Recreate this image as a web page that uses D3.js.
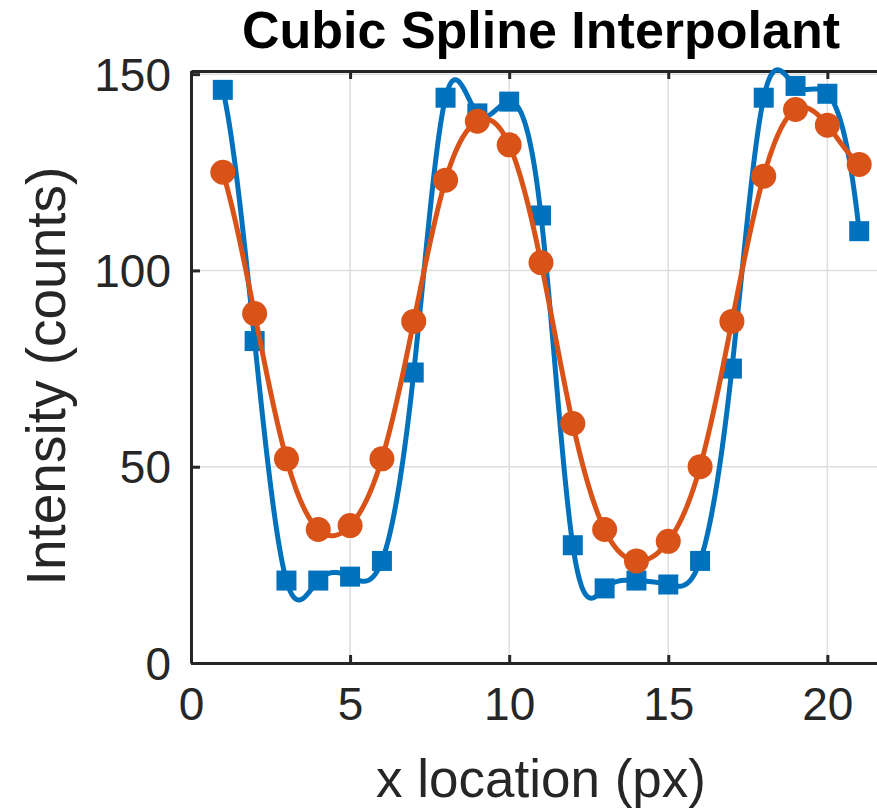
<!DOCTYPE html>
<html>
<head>
<meta charset="utf-8">
<script src="https://cdn.jsdelivr.net/npm/d3@7"></script>
<style>
  body { margin: 0; background: #fff; }
  svg { display: block; font-family: "Liberation Sans", Arial, sans-serif; }
</style>
</head>
<body>
<svg id="chart" width="877" height="809"></svg>
<script>
/////////////////////////////////
// DATA
//////////////////////////////////

var xLocations = d3.range(1, 22); // 1..21 px
var blueCounts = [146, 82, 21, 21, 22, 26, 74, 144, 140, 143, 114, 30, 19, 21, 20, 26, 75, 144, 147, 145, 110];
var orangeCounts = [125, 89, 52, 34, 35, 52, 87, 123, 138, 132, 102, 61, 34, 26, 31, 50, 87, 124, 141, 137, 127];
var xTicks = [0, 5, 10, 15, 20];
var yTicks = [0, 50, 100, 150];

var titleText = "Cubic Spline Interpolant";
var xLabelText = "x location (px)";
var yLabelText = "Intensity (counts)";

/////////////////////////////////
// LAYOUT
//////////////////////////////////

var margin = {top: 71, right: -14, bottom: 146, left: 191};
var width = 877 - margin.left - margin.right;
var height = 809 - margin.top - margin.bottom;
var axisColor = "#262626";
var gridColor = "#dedede";
var blue = "#0072BD";
var orange = "#D95319";

var svg = d3.select("#chart");
var g = svg.append("g")
  .attr("transform", "translate(" + margin.left + "," + margin.top + ")");

var x = d3.scaleLinear().domain([0, 22]).range([0, width]);
var y = d3.scaleLinear().domain([0, 150.8]).range([height, 0]);

/////////////////////////////////
// SPLINE (not-a-knot, like matlab spline)
//////////////////////////////////

function splineCurve(xs, ys, step) {
  var n = xs.length;
  var h = xs[1] - xs[0];
  // build system for second derivatives M
  var A = [], b = [];
  for (var i = 0; i < n; i++) { A.push(new Array(n).fill(0)); b.push(0); }
  A[0][0] = 1; A[0][1] = -2; A[0][2] = 1;
  for (var i = 1; i < n - 1; i++) {
    A[i][i - 1] = 1; A[i][i] = 4; A[i][i + 1] = 1;
    b[i] = 6 * (ys[i - 1] - 2 * ys[i] + ys[i + 1]) / (h * h);
  }
  A[n - 1][n - 3] = 1; A[n - 1][n - 2] = -2; A[n - 1][n - 1] = 1;
  // gaussian elimination w/ pivoting
  for (var c = 0; c < n; c++) {
    var p = c;
    for (var r = c + 1; r < n; r++) if (Math.abs(A[r][c]) > Math.abs(A[p][c])) p = r;
    var tmp = A[c]; A[c] = A[p]; A[p] = tmp;
    var tb = b[c]; b[c] = b[p]; b[p] = tb;
    for (var r = c + 1; r < n; r++) {
      var f = A[r][c] / A[c][c];
      if (f === 0) continue;
      for (var k = c; k < n; k++) A[r][k] -= f * A[c][k];
      b[r] -= f * b[c];
    }
  }
  var M = new Array(n).fill(0);
  for (var r = n - 1; r >= 0; r--) {
    var s = b[r];
    for (var k = r + 1; k < n; k++) s -= A[r][k] * M[k];
    M[r] = s / A[r][r];
  }
  var pts = [];
  for (var i = 0; i < n - 1; i++) {
    for (var t = 0; t < 1; t += step) {
      var u = 1 - t;
      var v = u * ys[i] + t * ys[i + 1] + ((u * u * u - u) * M[i] + (t * t * t - t) * M[i + 1]) * h * h / 6;
      pts.push([xs[i] + t * h, v]);
    }
  }
  pts.push([xs[n - 1], ys[n - 1]]);
  return pts;
}

/////////////////////////////////
// GRID + AXES
//////////////////////////////////

g.selectAll(".xgrid").data(xTicks.filter(function(d) { return d > 0; }))
  .enter().append("line")
    .attr("x1", function(d) { return x(d); })
    .attr("x2", function(d) { return x(d); })
    .attr("y1", 0).attr("y2", height)
    .attr("stroke", gridColor).attr("stroke-width", 1.5);

g.selectAll(".ygrid").data(yTicks.filter(function(d) { return d > 0; }))
  .enter().append("line")
    .attr("x1", 0).attr("x2", width)
    .attr("y1", function(d) { return y(d); })
    .attr("y2", function(d) { return y(d); })
    .attr("stroke", gridColor).attr("stroke-width", 1.5);

var xAxis = g.append("g")
  .attr("transform", "translate(0," + height + ")")
  .call(d3.axisBottom(x).tickValues(xTicks).tickSizeInner(-8).tickSizeOuter(0).tickPadding(24));

var xAxisTop = g.append("g")
  .call(d3.axisTop(x).tickValues(xTicks).tickSizeInner(-8).tickSizeOuter(0).tickFormat(""));

var yAxis = g.append("g")
  .call(d3.axisLeft(y).tickValues(yTicks).tickSizeInner(-9).tickSizeOuter(0).tickPadding(20));

[xAxis, xAxisTop, yAxis].forEach(function(a) {
  a.select(".domain").attr("stroke", axisColor).attr("stroke-width", 3);
  a.selectAll(".tick line").attr("stroke", axisColor).attr("stroke-width", 3);
  a.selectAll(".tick text")
    .attr("fill", axisColor)
    .style("font-size", "46px")
    .style("font-family", "'Liberation Sans', Arial, sans-serif");
});
xAxis.selectAll(".tick text").attr("dy", "0.71em");
yAxis.selectAll(".tick text").attr("dy", "0.35em");

/////////////////////////////////
// SERIES
//////////////////////////////////

var line = d3.line()
  .x(function(d) { return x(d[0]); })
  .y(function(d) { return y(d[1]); });

// blue first, orange on top
g.append("path")
  .datum(splineCurve(xLocations, blueCounts, 0.02))
  .attr("fill", "none").attr("stroke", blue).attr("stroke-width", 5)
  .attr("stroke-linejoin", "round")
  .attr("d", line);

var sq = 20;
g.selectAll(".sq").data(blueCounts)
  .enter().append("rect")
    .attr("x", function(d, i) { return x(xLocations[i]) - sq / 2; })
    .attr("y", function(d) { return y(d) - sq / 2; })
    .attr("width", sq).attr("height", sq)
    .attr("fill", blue);

g.append("path")
  .datum(splineCurve(xLocations, orangeCounts, 0.02))
  .attr("fill", "none").attr("stroke", orange).attr("stroke-width", 5)
  .attr("stroke-linejoin", "round")
  .attr("d", line);

g.selectAll(".dot").data(orangeCounts)
  .enter().append("circle")
    .attr("cx", function(d, i) { return x(xLocations[i]); })
    .attr("cy", function(d) { return y(d); })
    .attr("r", 12.5)
    .attr("fill", orange);

/////////////////////////////////
// TEXT
//////////////////////////////////

svg.append("text")
  .attr("x", margin.left + width / 2)
  .attr("y", 48)
  .attr("text-anchor", "middle")
  .attr("font-weight", "bold")
  .attr("font-size", 52)
  .attr("fill", "#000")
  .text(titleText);

svg.append("text")
  .attr("x", margin.left + width / 2)
  .attr("y", 797)
  .attr("text-anchor", "middle")
  .attr("font-size", 53)
  .attr("fill", axisColor)
  .text(xLabelText);

svg.append("text")
  .attr("transform", "translate(65," + (margin.top + height / 2 + 9) + ") rotate(-90)")
  .attr("text-anchor", "middle")
  .attr("font-size", 55)
  .attr("fill", axisColor)
  .text(yLabelText);
</script>
</body>
</html>
